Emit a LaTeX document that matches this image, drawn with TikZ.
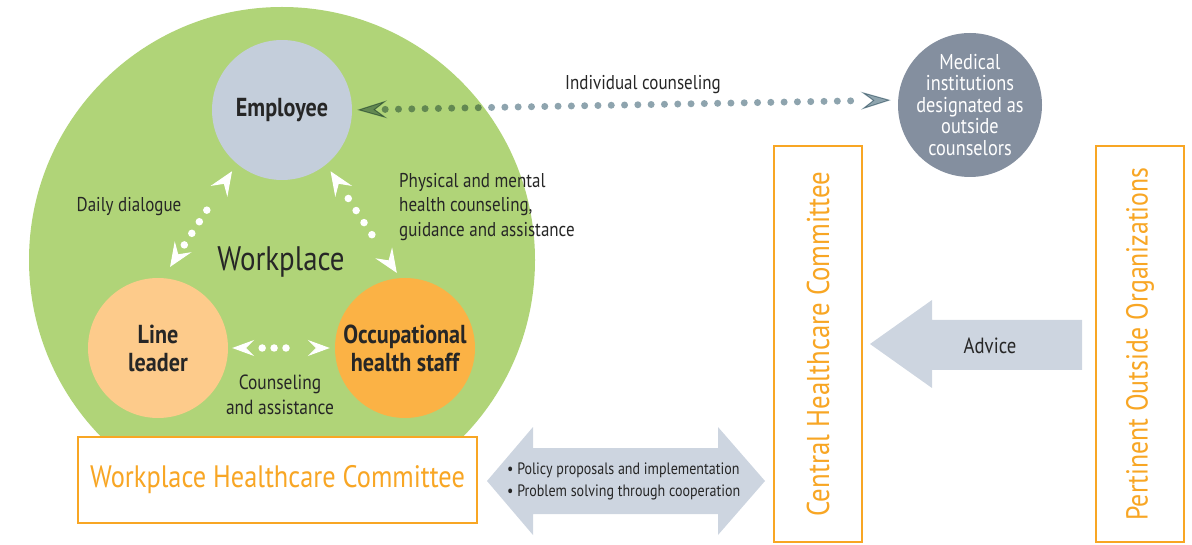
\documentclass[tikz,border=0pt]{standalone}
\usepackage{fontspec}
\setmainfont{PT Sans}[FakeStretch=0.85]
\usetikzlibrary{arrows.meta}
\definecolor{wpgreen}{HTML}{B0D478}
\definecolor{empblue}{HTML}{C4CEDB}
\definecolor{llorange}{HTML}{FDCB8B}
\definecolor{ohorange}{HTML}{FBB245}
\definecolor{medgrey}{HTML}{848F9F}
\definecolor{ora}{HTML}{F8A624}
\definecolor{arrgrey}{HTML}{CDD5E0}
\definecolor{dotgrey}{HTML}{8EA4AE}
\definecolor{txt}{HTML}{262626}
\tikzset{
  bubble/.style={circle, inner sep=0pt, align=center, text=txt},
  lab/.style={text=txt, inner sep=0pt, font=\fontsize{20}{24.5}\selectfont},
  obox/.style={draw=ora, line width=2.5pt, fill=white, text=ora, inner sep=0pt},
  wdots/.style={draw=white, line width=7.5pt, line cap=round},
  wtip/.style={draw=white, line width=1pt, line cap=butt, dash pattern=on 0pt off 3000pt},
  gdots/.style={draw=dotgrey, line width=7pt, line cap=round},
  gtip/.style={draw=dotgrey, line width=1pt, line cap=butt, dash pattern=on 0pt off 3000pt},
  blockarrow/.style={fill=arrgrey, draw=none},
}
\begin{document}
\begin{tikzpicture}[x=1pt,y=-1pt]
\useasboundingbox (0,0) rectangle (1192,545);
% workplace circle
\node[circle, fill=wpgreen, minimum size=506pt, inner sep=0pt] (wp) at (282,260) {};
\node[lab, font=\fontsize{34}{40}\selectfont] (wpl) at (281,262) {Workplace};
% circles
\node[bubble, fill=empblue, minimum size=140pt, font=\bfseries\fontsize{26}{28}\selectfont] (emp) at (282,110) {Employee};
\node[bubble, fill=llorange, minimum size=140pt, font=\bfseries\fontsize{26}{28}\selectfont] (ll) at (158,348) {Line\\leader};
\node[bubble, fill=ohorange, minimum size=140pt, font=\bfseries\fontsize{26}{28}\selectfont] (oh) at (405,348) {Occupational\\health staff};
\node[circle, fill=medgrey, minimum size=144pt, inner sep=0pt] (med) at (970,105) {};
\node[align=center, text=white, inner sep=0pt, font=\fontsize{21.5}{21.5}\selectfont] (medt) at (med) {Medical\\institutions\\designated as\\outside\\counselors};
% boxes
\node[obox, minimum width=399pt, minimum height=86pt, font=\fontsize{31}{36}\selectfont] (whc) at (277.5,480) {Workplace Healthcare Committee};
\node[obox, rotate=90, minimum width=396pt, minimum height=88pt, font=\fontsize{31.5}{36}\selectfont] (chc) at (818,344) {Central Healthcare Committee};
\node[obox, rotate=90, minimum width=396pt, minimum height=88pt, font=\fontsize{30.3}{36}\selectfont] (poo) at (1140,344) {Pertinent Outside Organizations};
% labels
\node[lab] (ic) at (643,85) {Individual counseling};
\node[lab] (dd) at (129,207) {Daily dialogue};
\node[lab, anchor=north west, align=left] (ph) at (399,173) {Physical and mental\\health counseling,\\guidance and assistance};
\node[lab, align=center, font=\fontsize{20.5}{24.5}\selectfont] (ca) at (280,395) {Counseling\\and assistance};
% white dotted arrows
\draw[wdots, dash pattern=on 0pt off 13.8pt, shorten <=39.4pt, shorten >=42.1pt] (ll.86) -- (emp.230);
\draw[wtip, {Stealth[length=24pt,width=20pt,inset=9pt]}-{Stealth[length=24pt,width=20pt,inset=9pt]}, shorten <=13.2pt, shorten >=8.9pt] (ll.86) -- (emp.230);
\draw[wdots, dash pattern=on 0pt off 14.4pt, shorten <=40.5pt, shorten >=37.7pt] (emp.309) -- (oh.94);
\draw[wtip, {Stealth[length=24pt,width=20pt,inset=9pt]}-{Stealth[length=24pt,width=20pt,inset=9pt]}, shorten <=8pt, shorten >=6pt] (emp.309) -- (oh.94);
\draw[wdots, dash pattern=on 0pt off 11.9pt, shorten <=34pt, shorten >=37pt] (ll.east) -- (oh.west);
\draw[wtip, {Stealth[length=22pt,width=16pt,inset=8pt]}-{Stealth[length=22pt,width=16pt,inset=8pt]}, shorten <=4pt, shorten >=5pt] (ll.east) -- (oh.west);
% grey dotted arrow (multiply over green)
\begin{scope}[blend mode=multiply]
\draw[gdots, dash pattern=on 0pt off 13.3pt, shorten <=33pt, shorten >=41pt] ([yshift=0pt]emp.east) -- ([yshift=5pt]med.west);
\draw[gtip, {Stealth[length=30pt,width=18pt,inset=12pt]}-{Stealth[length=30pt,width=18pt,inset=12pt]}, shorten <=5pt, shorten >=7pt] ([yshift=0pt]emp.east) -- ([yshift=5pt]med.west);
\end{scope}
% block arrows
\fill[blockarrow] (487,481) -- (533,427) -- (533,448) -- (718,448) -- (718,427) -- (765,481) -- (718,535) -- (718,514) -- (533,514) -- (533,535) -- cycle;
\node[lab, anchor=west, align=left, font=\fontsize{16.5}{22}\selectfont] (pp) at (507,481) {• Policy proposals and implementation\\• Problem solving through cooperation};
\fill[blockarrow] (870,344) -- (932,300) -- (932,320) -- (1082,320) -- (1082,370) -- (932,370) -- (932,388) -- cycle;
\node[lab, font=\fontsize{22}{24}\selectfont] (adv) at (990,346) {Advice};
\end{tikzpicture}
\end{document}
